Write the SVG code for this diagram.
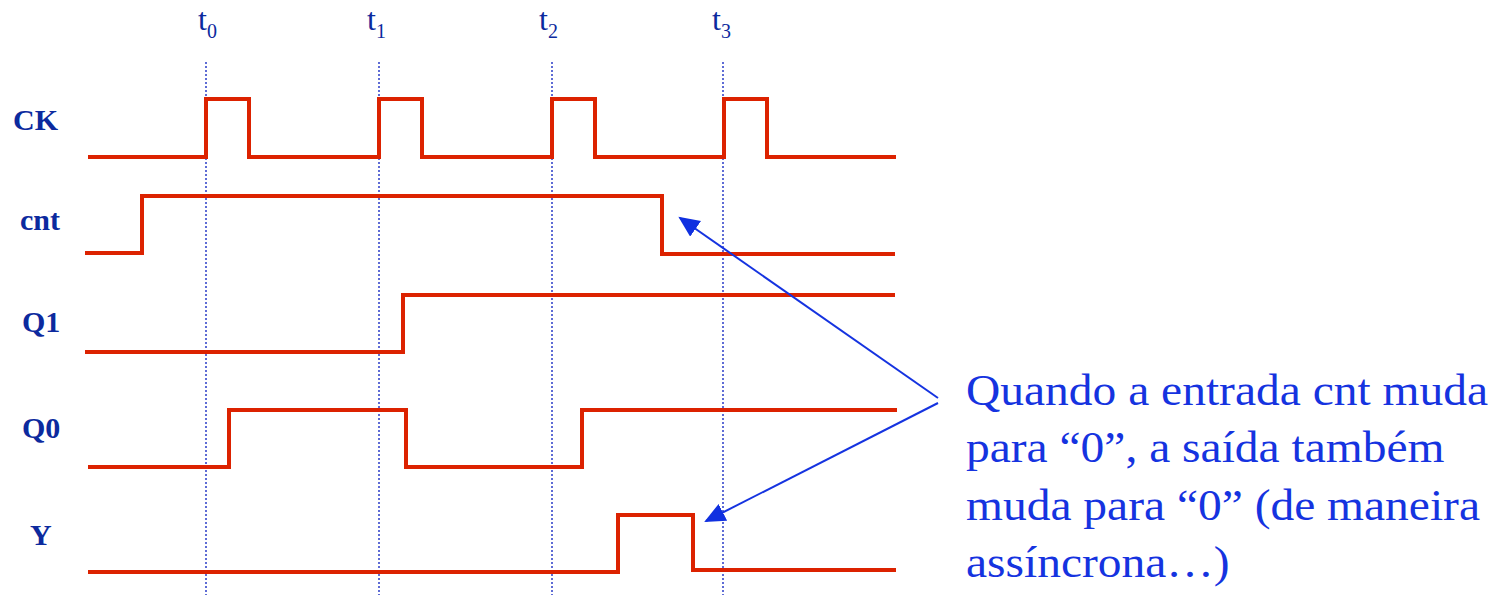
<svg xmlns="http://www.w3.org/2000/svg" width="1504" height="595" viewBox="0 0 1504 595">
<style>
.sig{fill:none;stroke:#dc2200;stroke-width:4;stroke-linejoin:miter;stroke-linecap:butt}
.grid{fill:none;stroke:#2a3cc8;stroke-width:1.5;stroke-dasharray:2 2}
.lab{font-family:"Liberation Serif",serif;font-weight:bold;font-size:30px;fill:#0c2a9e}
.tl{font-family:"Liberation Serif",serif;font-size:32px;fill:#0c2a9e}
.ts{font-size:20px}
.note{font-family:"Liberation Serif",serif;font-size:45px;fill:#1533e0}
.arr{fill:none;stroke:#1533e0;stroke-width:2}
</style>
<defs>
<marker id="ah" markerUnits="userSpaceOnUse" markerWidth="24" markerHeight="22" refX="19" refY="9.5" orient="auto">
<path d="M0,0 L21,9.5 L0,19 z" fill="#1030e0"/>
</marker>
</defs>
<rect width="1504" height="595" fill="#fff"/>
<g id="time-markers">
<line class="grid" x1="206" y1="62" x2="206" y2="595"/>
<line class="grid" x1="379" y1="62" x2="379" y2="595"/>
<line class="grid" x1="552" y1="62" x2="552" y2="595"/>
<line class="grid" x1="723" y1="62" x2="723" y2="595"/>
<text class="tl" x="198" y="30">t<tspan class="ts" dy="8">0</tspan></text>
<text class="tl" x="367" y="30">t<tspan class="ts" dy="8">1</tspan></text>
<text class="tl" x="539" y="30">t<tspan class="ts" dy="8">2</tspan></text>
<text class="tl" x="712" y="30">t<tspan class="ts" dy="8">3</tspan></text>
</g>
<g id="CK">
<text class="lab" x="13" y="130">CK</text>
<polyline class="sig" points="88,157 206,157 206,99 249,99 249,157 379,157 379,99 422,99 422,157 552,157 552,99 595,99 595,157 724,157 724,99 767,99 767,157 896,157"/>
</g>
<g id="cnt">
<text class="lab" x="20" y="230">cnt</text>
<polyline class="sig" points="85,253 142,253 142,196 662,196 662,254 895,254"/>
</g>
<g id="Q1">
<text class="lab" x="22" y="332">Q1</text>
<polyline class="sig" points="85,352 403,352 403,295 895,295"/>
</g>
<g id="Q0">
<text class="lab" x="22" y="438">Q0</text>
<polyline class="sig" points="88,467 229,467 229,410 406,410 406,467 582,467 582,410 897,410"/>
</g>
<g id="Y">
<text class="lab" x="30" y="545">Y</text>
<polyline class="sig" points="88,572 618,572 618,515 693,515 693,570 896,570"/>
</g>
<g id="connectors">
<line class="arr" x1="938" y1="398" x2="680" y2="218" marker-end="url(#ah)"/>
<line class="arr" x1="938" y1="403" x2="706" y2="521" marker-end="url(#ah)"/>
</g>
<g id="note" transform="translate(966,0) scale(1.055,1)">
<text class="note" x="0" y="405">Quando a entrada cnt muda</text>
<text class="note" x="0" y="462">para “0”, a saída também</text>
<text class="note" x="0" y="520">muda para “0” (de maneira</text>
<text class="note" x="0" y="577">assíncrona…)</text>
</g>
</svg>
